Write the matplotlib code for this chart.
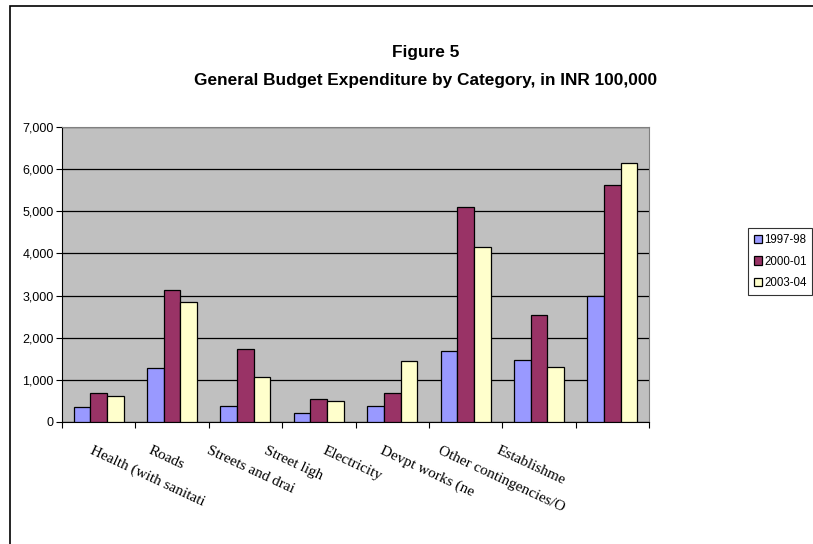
import matplotlib
matplotlib.use('Agg')
import numpy as np
import matplotlib.pyplot as plt
from matplotlib.patches import Rectangle
from matplotlib.ticker import FuncFormatter

# Budget expenditure by category (INR 100,000)
categories = ['Health (with sanitati', 'Roads', 'Streets and drai', 'Street ligh',
              'Electricity', 'Devpt works (ne', 'Other contingencies/O', 'Establishme']
years = ['1997-98', '2000-01', '2003-04']
exp_1997 = [356, 1274, 380, 206, 380, 1685, 1471, 2998]
exp_2000 = [680, 3125, 1740, 538, 680, 5093, 2547, 5624]
exp_2003 = [617, 2856, 1060, 498, 1440, 4160, 1305, 6146]

colors = ['#9999FF', '#993366', '#FFFFCC']

fig = plt.figure(figsize=(8.13, 5.44), dpi=100)
ax = fig.add_axes([62 / 813, 1 - 422 / 544, 587 / 813, 295 / 544])
ax.set_facecolor('#C0C0C0')

x = np.arange(len(categories))
w = 0.227
for k, (vals, lab) in enumerate(zip([exp_1997, exp_2000, exp_2003], years)):
    ax.bar(x + (k - 1) * w, vals, w, color=colors[k], edgecolor='black',
           linewidth=0.9, label=lab, zorder=3)

ax.set_xlim(-0.5, len(categories) - 0.5)
ax.set_ylim(0, 7000)
ax.set_yticks(range(0, 7001, 1000))
ax.yaxis.set_major_formatter(FuncFormatter(lambda v, p: f'{int(v):,}'))
ax.grid(axis='y', color='black', linewidth=0.9, zorder=1)
ax.set_xticks(np.arange(len(categories) + 1) - 0.5)
ax.set_xticklabels([])
ax.tick_params(axis='both', direction='out', length=4, width=0.8, color='black')
ax.tick_params(axis='y', labelsize=9, pad=2)
for lbl in ax.get_yticklabels():
    lbl.set_family('Liberation Sans')

for s in ['top', 'right']:
    ax.spines[s].set_color('#808080')
for s in ['left', 'bottom']:
    ax.spines[s].set_color('black')

# category labels, slanted and cut short
for i, name in enumerate(categories):
    ax.text((32 + 57.9 * i) / 587, -0.075, name, transform=ax.transAxes,
            rotation=-25, rotation_mode='anchor', ha='left', va='top',
            family='Liberation Serif', fontsize=11)

fig.text(0.523, 1 - 57 / 544, 'Figure 5', ha='center', va='baseline',
         family='Liberation Sans', weight='bold', fontsize=12.4)
fig.text(0.523, 1 - 85 / 544, 'General Budget Expenditure by Category, in INR 100,000',
         ha='center', va='baseline', family='Liberation Sans', weight='bold', fontsize=12.4)

leg = fig.legend(loc='upper left', bbox_to_anchor=(748 / 813, 1 - 228 / 544),
                 prop={'family': 'Liberation Sans', 'size': 8.3}, frameon=True,
                 fancybox=False, edgecolor='black', handlelength=0.7, handleheight=0.7,
                 handletextpad=0.2, borderpad=0.5, labelspacing=0.85, borderaxespad=0)
leg.get_frame().set_linewidth(0.8)

fig.add_artist(Rectangle((10 / 813, -0.05), 1.0, 1 - 6 / 544 + 0.05,
                         transform=fig.transFigure, fill=False,
                         edgecolor='black', linewidth=1.2, clip_on=False))

fig.savefig('out.png', dpi=100)
